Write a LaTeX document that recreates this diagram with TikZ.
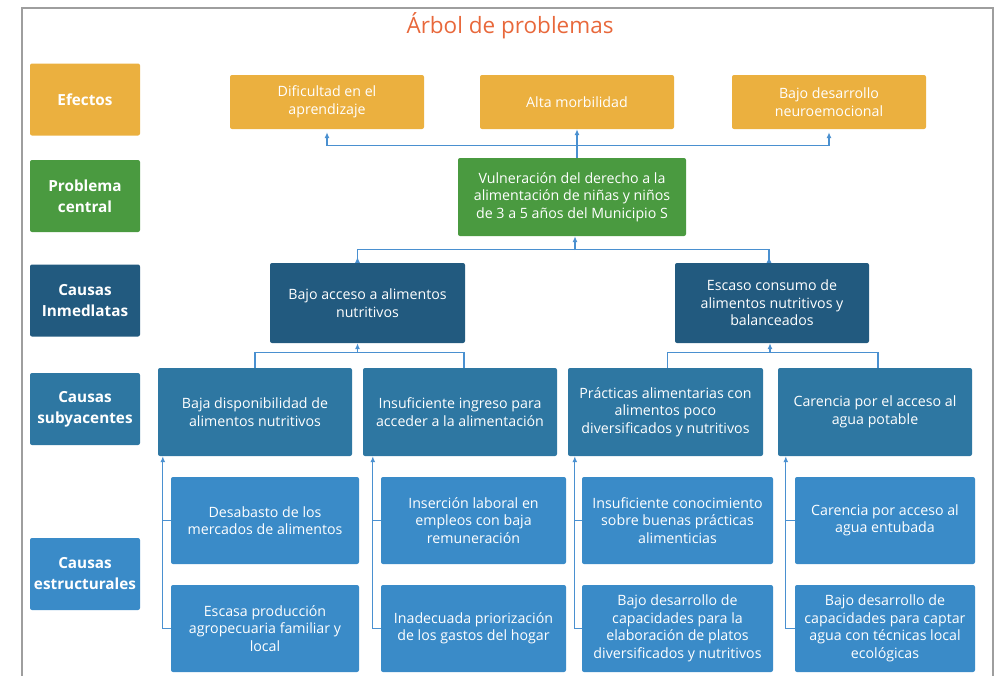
\documentclass[tikz,border=0pt]{standalone}
\usepackage{fontspec}
\setmainfont{Open Sans}
\usepackage{tikz}
\usetikzlibrary{arrows.meta}
\definecolor{tree-title}{HTML}{E8683B}
\definecolor{tree-orange}{HTML}{EBB03F}
\definecolor{tree-green}{HTML}{4A9A40}
\definecolor{tree-dark}{HTML}{225A7F}
\definecolor{tree-mid}{HTML}{2E77A2}
\definecolor{tree-light}{HTML}{3A8BC8}
\definecolor{tree-line}{HTML}{4A90D0}
\definecolor{tree-frame}{gray}{0.62}
\newcommand*\lvlfont{\bfseries\fontsize{15.3}{21}\selectfont}
\newcommand*\boxfont{\fontsize{14.2}{17.5}\selectfont}

\begin{document}
\begin{tikzpicture}[x=1pt,y=-1pt,
				box/.style={rounded corners=2pt,text=white,align=center,inner sep=0pt,font=\boxfont},
				lvl/.style={box,minimum width=110pt,minimum height=72pt,font=\lvlfont},
				efecto/.style={box,fill=tree-orange,minimum width=194pt,minimum height=54pt},
				centro/.style={box,fill=tree-green,minimum width=228pt,minimum height=78pt},
				inmediata/.style={box,fill=tree-dark,minimum width=195pt,minimum height=80pt},
				subyacente/.style={box,fill=tree-mid,minimum height=88pt},
				estructural/.style={box,fill=tree-light,minimum height=87pt},
				conn/.style={draw=tree-line,line width=1.2pt},
				tip/.style={-{Latex[length=6pt,width=5pt]}}]
				\useasboundingbox (0,0) rectangle (996,675);
				\draw[tree-frame,line width=1.5pt] (22,690) |- (993,8) -- (993,690);
				\node[text=tree-title,font=\fontsize{22.5}{26}\selectfont] (titulo) at (510,26) {Árbol de problemas};

				\node[lvl,fill=tree-orange] (l1) at (85,99.5) {Efectos};
				\node[lvl,fill=tree-green] (l2) at (85,196) {Problema\\central};
				\node[lvl,fill=tree-dark] (l3) at (85,300.5) {Causas\\Inmedlatas};
				\node[lvl,fill=tree-mid] (l4) at (85,409) {Causas\\subyacentes};
				\node[lvl,fill=tree-light] (l5) at (85,574) {Causas\\estructurales};

				\node[efecto] (dif) at (327,102) {Dificultad en el\\aprendizaje};
				\node[efecto] (alta) at (577,102) {Alta morbilidad};
				\node[efecto] (neuro) at (829,102) {Bajo desarrollo\\neuroemocional};

				\node[centro] (vuln) at (572,197) {Vulneración del derecho a la\\alimentación de niñas y niños\\de 3 a 5 años del Municipio S};

				\node[inmediata] (acceso) at (367.5,303) {Bajo acceso a alimentos\\nutritivos};
				\node[inmediata,minimum width=194pt] (consumo) at (772,303) {Escaso consumo de\\alimentos nutritivos y\\balanceados};

				\node[subyacente,minimum width=194pt] (disp) at (255,412) {Baja disponibilidad de\\alimentos nutritivos};
				\node[subyacente,minimum width=194pt] (ingreso) at (460,412) {Insuficiente ingreso para\\acceder a la alimentación};
				\node[subyacente,minimum width=195pt] (practicas) at (665.5,412) {Prácticas alimentarias con\\alimentos poco\\diversificados y nutritivos};
				\node[subyacente,minimum width=194pt] (potable) at (875,412) {Carencia por el acceso al\\agua potable};

				\node[estructural,minimum width=188pt] (desabasto) at (265,520.5) {Desabasto de los\\mercados de alimentos};
				\node[estructural,minimum width=188pt] (produccion) at (265,628.5) {Escasa producción\\agropecuaria familiar y\\local};
				\node[estructural,minimum width=185pt] (insercion) at (473.5,520.5) {Inserción laboral en\\empleos con baja\\remuneración};
				\node[estructural,minimum width=185pt] (gastos) at (473.5,628.5) {Inadecuada priorización\\de los gastos del hogar};
				\node[estructural,minimum width=191pt] (conocim) at (677.5,520.5) {Insuficiente conocimiento\\sobre buenas prácticas\\alimenticias};
				\node[estructural,minimum width=191pt] (platos) at (677.5,628.5) {Bajo desarrollo de\\capacidades para la\\elaboración de platos\\diversificados y nutritivos};
				\node[estructural,minimum width=180pt] (entubada) at (885,520.5) {Carencia por acceso al\\agua entubada};
				\node[estructural,minimum width=180pt] (captar) at (885,628.5) {Bajo desarrollo de\\capacidades para captar\\agua con técnicas local\\ecológicas};

				\draw[conn,{Latex[length=6pt,width=5pt]}-{Latex[length=6pt,width=5pt]},shorten <=3pt,shorten >=3pt] (dif.south) -- ++(0,16) -| (neuro.south);
				\draw[conn,tip] (alta.south |- vuln.north) -- (alta.south);

				\draw[conn,tip] ([xshift=3pt]vuln.south) ++(0,14) -- ([xshift=3pt]vuln.south);
				\draw[conn,{Latex[reversed,length=6pt,width=5pt]}-{Latex[reversed,length=6pt,width=5pt]}] ([xshift=-10pt]acceso.north) -- ++(0,-13) -| ([xshift=-3pt]consumo.north);

				\draw[conn] (disp.north) -- ++(0,-15) -| ([xshift=4pt]ingreso.north);
				\draw[conn,tip] ([xshift=-10pt]acceso.south) ++(0,10) -- ([xshift=-10pt]acceso.south);
				\draw[conn] ([xshift=2pt]practicas.north) -- ++(0,-15) -| ([xshift=3pt]potable.north);
				\draw[conn,tip] ([xshift=-2pt]consumo.south) ++(0,10) -- ([xshift=-2pt]consumo.south);

				\draw[conn,tip] (produccion.west) -| ([xshift=-8pt]desabasto.west |- disp.south);
				\draw[conn] (desabasto.west) -- ++(-8,0);
				\draw[conn,tip] (gastos.west) -| ([xshift=-8pt]insercion.west |- ingreso.south);
				\draw[conn] (insercion.west) -- ++(-8,0);
				\draw[conn,tip] (platos.west) -| ([xshift=-7pt]conocim.west |- practicas.south);
				\draw[conn] (conocim.west) -- ++(-7,0);
				\draw[conn,tip] (captar.west) -| ([xshift=-9pt]entubada.west |- potable.south);
				\draw[conn] (entubada.west) -- ++(-9,0);
\end{tikzpicture}
\end{document}
